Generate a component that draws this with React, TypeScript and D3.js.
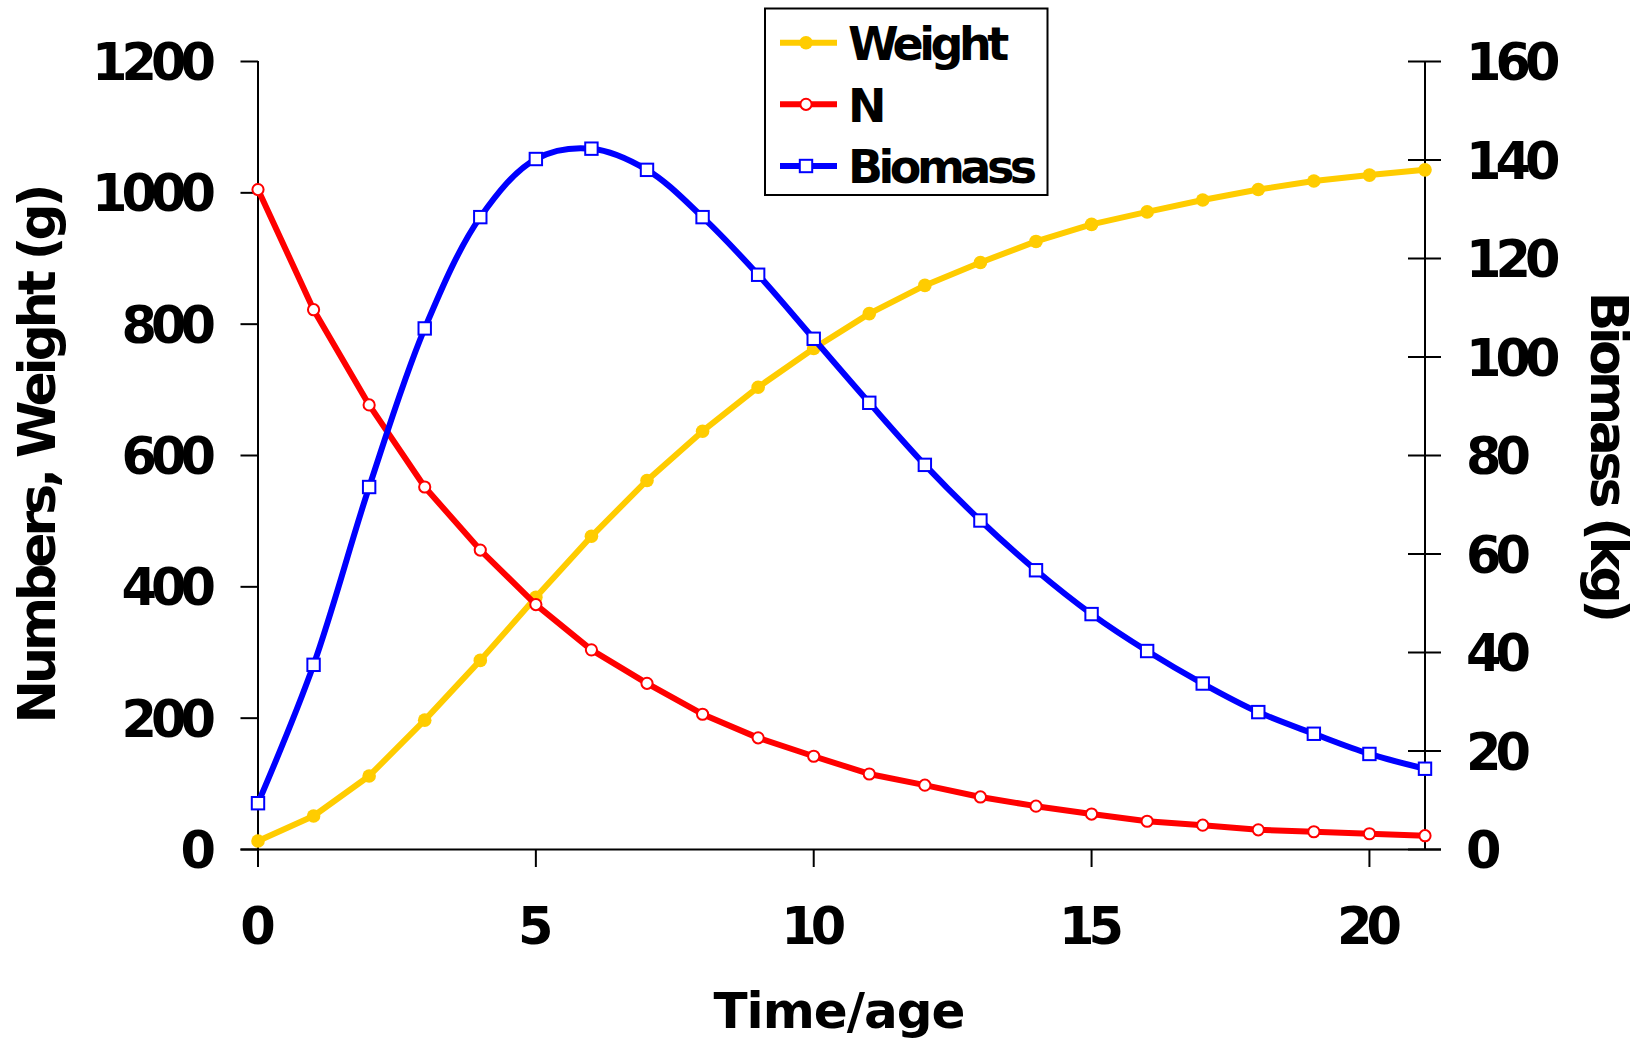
import React from "react";
import * as d3 from "d3";

const times = d3.range(0, 22);
const weight = [13, 51, 112, 197, 288, 384, 477, 562, 637, 704, 763, 816, 859, 894, 926, 952, 971, 989, 1005, 1018, 1027, 1035];
const numbers = [1005, 822, 677, 552, 456, 373, 304, 253, 206, 170, 142, 115, 98, 80, 66, 54, 43, 37, 30, 27, 24, 21];
const biomass = [9.4, 37.5, 73.6, 105.8, 128.4, 140.2, 142.3, 138.0, 128.4, 116.7, 103.7, 90.7, 78.1, 66.8, 56.7, 47.8, 40.3, 33.7, 27.9, 23.5, 19.4, 16.4];
const xTicks = [0, 5, 10, 15, 20];
const leftTicks = [0, 200, 400, 600, 800, 1000, 1200];
const rightTicks = [0, 20, 40, 60, 80, 100, 120, 140, 160];

const FONT = "'DejaVu Sans', Verdana, sans-serif";
const YELLOW = "#FFCC00";
const RED = "#FF0000";
const BLUE = "#0000FF";

export default function App() {
  const W = 1649, H = 1040;
  const x = d3.scaleLinear().domain([0, 21]).range([258, 1425]);
  const yL = d3.scaleLinear().domain([0, 1200]).range([849.5, 61.5]);
  const yR = d3.scaleLinear().domain([0, 160]).range([849.5, 61.5]);

  const lineW = d3.line<number>().x((_, i) => x(times[i])).y((d) => yL(d));
  const lineB = d3.line<number>().x((_, i) => x(times[i])).y((d) => yR(d)).curve(d3.curveCatmullRom.alpha(0.5));

  const LS = -6;
  const tickFont = { fontFamily: FONT, fontWeight: 700, fontSize: 51, letterSpacing: LS } as const;
  const legendFont = { fontFamily: FONT, fontWeight: 700, fontSize: 46, letterSpacing: -4.5 } as const;

  const legendItems = [
    { label: "Weight", color: YELLOW, kind: "dot" },
    { label: "N", color: RED, kind: "circle" },
    { label: "Biomass", color: BLUE, kind: "square" },
  ];
  const legendRows = [42.7, 104.3, 166];

  const marker = (kind: string, color: string, cx: number, cy: number, key: string) => {
    if (kind === "dot") return <circle key={key} cx={cx} cy={cy} r={6.8} fill={color} />;
    if (kind === "circle") return <circle key={key} cx={cx} cy={cy} r={5.6} fill="#fff" stroke={color} strokeWidth={2} />;
    return <rect key={key} x={cx - 6.2} y={cy - 6.2} width={12.4} height={12.4} fill="#fff" stroke={color} strokeWidth={2} />;
  };

  const SW = 6;

  return (
    <svg width={W} height={H} style={{ position: "absolute", left: 0, top: 0, background: "#fff" }}>
      <rect x={0} y={0} width={W} height={H} fill="#fff" />
      {/* axes */}
      <g stroke="#000" strokeWidth={2} fill="none">
        <line x1={x(0)} y1={61} x2={x(0)} y2={867} />
        <line x1={240.5} y1={yL(0)} x2={1441} y2={yL(0)} />
        <line x1={x(21)} y1={61} x2={x(21)} y2={yL(0)} />
        {leftTicks.map((t) => (
          <line key={"lt" + t} x1={240.5} x2={x(0)} y1={yL(t)} y2={yL(t)} />
        ))}
        {xTicks.map((t) => (
          <line key={"xt" + t} x1={x(t)} x2={x(t)} y1={yL(0)} y2={867} />
        ))}
        {rightTicks.map((t) => (
          <line key={"rt" + t} x1={1408} x2={1441} y1={yR(t)} y2={yR(t)} />
        ))}
      </g>
      {/* tick labels */}
      <g style={tickFont} fill="#000">
        {leftTicks.map((t) => (
          <text key={"ll" + t} x={210} y={yL(t) + 18.6} textAnchor="end">{t}</text>
        ))}
        {rightTicks.map((t) => (
          <text key={"rl" + t} x={1466} y={yR(t) + 18.6} textAnchor="start">{t}</text>
        ))}
        {xTicks.map((t) => (
          <text key={"xl" + t} x={x(t) + LS / 2} y={943.5} textAnchor="middle">{t}</text>
        ))}
      </g>
      {/* titles */}
      <text x={839} y={1028} textAnchor="middle" style={{ fontFamily: FONT, fontWeight: 700, fontSize: 50, letterSpacing: -1 }}>Time/age</text>
      <text transform="translate(55,455.5) rotate(-90)" textAnchor="middle" style={{ fontFamily: FONT, fontWeight: 700, fontSize: 52, letterSpacing: -4 }}>Numbers, Weight (g)</text>
      <text transform="translate(1591,455) rotate(90)" textAnchor="middle" style={{ fontFamily: FONT, fontWeight: 700, fontSize: 52, letterSpacing: -4.6 }}>Biomass (kg)</text>

      {/* series */}
      <path d={lineW(weight) || ""} fill="none" stroke={YELLOW} strokeWidth={SW} strokeLinejoin="round" />
      {weight.map((v, i) => marker("dot", YELLOW, x(times[i]), yL(v), "w" + i))}
      <path d={lineW(numbers) || ""} fill="none" stroke={RED} strokeWidth={SW} strokeLinejoin="round" />
      {numbers.map((v, i) => marker("circle", RED, x(times[i]), yL(v), "n" + i))}
      <path d={lineB(biomass) || ""} fill="none" stroke={BLUE} strokeWidth={SW} strokeLinejoin="round" />
      {biomass.map((v, i) => marker("square", BLUE, x(times[i]), yR(v), "b" + i))}

      {/* legend */}
      <rect x={765} y={8.5} width={282.5} height={186.5} fill="#fff" stroke="#000" strokeWidth={2} />
      {legendItems.map((it, i) => (
        <g key={it.label}>
          <line x1={780} x2={837} y1={legendRows[i]} y2={legendRows[i]} stroke={it.color} strokeWidth={SW} />
          {marker(it.kind, it.color, 806, legendRows[i], "lm" + i)}
          <text x={848} y={legendRows[i] + 17.3} style={legendFont}>{it.label}</text>
        </g>
      ))}
    </svg>
  );
}
